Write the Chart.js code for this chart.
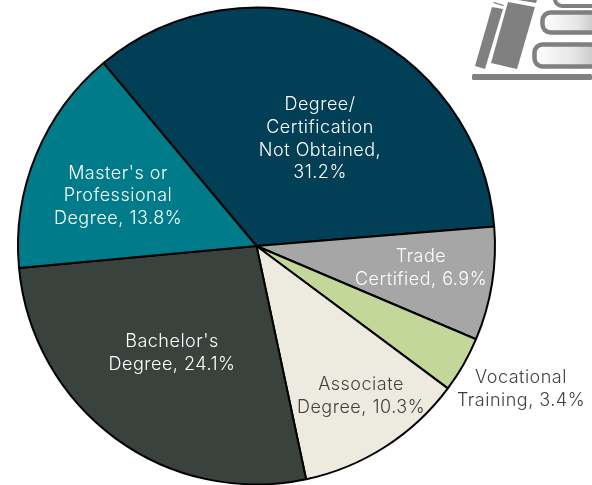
<!DOCTYPE html>
<html>
<head>
<meta charset="utf-8">
<style>
  html, body { margin: 0; padding: 0; background: #fff; overflow: hidden; }
  #wrap { position: relative; width: 592px; height: 485px; overflow: hidden; }
  #logo { position: absolute; left: 0; top: 0; }
</style>
<script src="https://cdn.jsdelivr.net/npm/chart.js@4"></script>
</head>
<body>
<div id="wrap">
  <canvas id="pieChart" width="592" height="487"></canvas>
  <svg id="logo" width="592" height="485">
    <defs>
      <linearGradient id="pages" x1="0" x2="1" y1="0" y2="0">
        <stop offset="0" stop-color="#fff"/>
        <stop offset="0.6" stop-color="#e4e4e4"/>
        <stop offset="1" stop-color="#bbb"/>
      </linearGradient>
    </defs>
    <g fill="#808080">
      <rect x="472" y="74" width="120" height="6" rx="1.5"/>
      <polygon points="492,7 503,9 485,69 475,66"/>
      <polygon points="494,2 504,5 503,6 493,3"/>
      <polygon points="508,2 535,7 517,69 491,63"/>
      <polygon points="512,0 537,0 536,3 518,0"/>
    </g>
    <g fill="url(#pages)" stroke="#808080" stroke-width="4.5">
      <rect x="542.5" y="12.5" width="60" height="20" rx="8"/>
      <rect x="534.5" y="44.5" width="68" height="22" rx="8"/>
    </g>
    <rect x="555" y="-12" width="50" height="18" rx="7" fill="none" stroke="#808080" stroke-width="4"/>
  </svg>
</div>
<script>
const categories = ["Degree/\nCertification\nNot Obtained,\n31.2%", "Trade\nCertified, 6.9%", "Vocational\nTraining, 3.4%", "Associate\nDegree, 10.3%", "Bachelor's\nDegree, 24.1%", "Master's or\nProfessional\nDegree, 13.8%"];
const values = [31.2, 6.9, 3.4, 10.3, 24.1, 13.8];
const sliceColors = ["#003f56", "#a6a6a6", "#c4d79b", "#edebe0", "#3a423d", "#007b8a"];
const labelColors = ["#ffffff", "#ffffff", "#404040", "#404040", "#ffffff", "#ffffff"];
// centre of each label block, page pixels
const labelX = [320, 421, 521, 361, 172, 118];
const labelY = [139, 268, 389, 396, 353, 196];

const sliceLabels = {
  id: "sliceLabels",
  afterDatasetsDraw(chart) {
    const ctx = chart.ctx;
    ctx.save();
    ctx.font = '300 18px "Inter"';
    ctx.letterSpacing = "0.5px";
    ctx.textAlign = "center";
    ctx.textBaseline = "middle";
    categories.forEach((text, i) => {
      const lines = text.split("\n");
      const top = labelY[i] - (lines.length - 1) * 22.7 / 2;
      ctx.fillStyle = labelColors[i];
      lines.forEach((line, j) => ctx.fillText(line, labelX[i], top + j * 22.7));
    });
    ctx.restore();
  }
};

new Chart(document.getElementById("pieChart"), {
  type: "pie",
  data: {
    labels: categories,
    datasets: [{
      data: values,
      backgroundColor: sliceColors,
      borderColor: "#000000",
      borderWidth: 2,
      borderAlign: "center"
    }]
  },
  options: {
    responsive: false,
    animation: false,
    rotation: -39.9,
    layout: { padding: { left: 17, right: 96, top: 6, bottom: 1 } },
    plugins: { legend: { display: false }, tooltip: { enabled: false } }
  },
  plugins: [sliceLabels]
});
</script>
</body>
</html>
